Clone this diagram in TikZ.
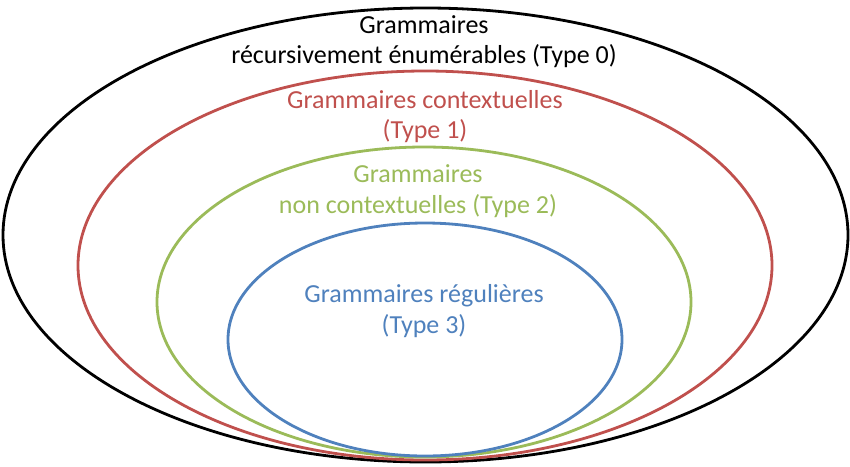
\documentclass[tikz,border=0pt]{standalone}
\usepackage{fontspec}
\setmainfont{Carlito}
\usetikzlibrary{positioning}
\definecolor{typered}{RGB}{192,80,77}
\definecolor{typegreen}{RGB}{155,187,89}
\definecolor{typeblue}{RGB}{79,129,189}
\tikzset{
    set/.style={
        line width=2.8pt
    },
    label/.style={
        align=center,
        inner sep=0pt,
        anchor=base,
        font=\fontsize{26}{31}\selectfont
    }
}

\begin{document}
\begin{tikzpicture}[x=1pt, y=-1pt]
\useasboundingbox (0,0) rectangle (850,466);

\draw[set, black] (425.5,235) ellipse [x radius=422.5pt, y radius=227pt];
\draw[set, typered] (425,265.5) ellipse [x radius=347pt, y radius=194.5pt];
\draw[set, typegreen] (424,302) ellipse [x radius=267pt, y radius=155pt];
\draw[set, typeblue] (425,339.5) ellipse [x radius=197pt, y radius=116.5pt];

\node[label] (type0a) at (424,33) {Grammaires};
\node[label] (type0b) at (424,63) {récursivement énumérables (Type 0)};
\node[label, text=typered] (type1a) at (425,108) {Grammaires contextuelles};
\node[label, text=typered] (type1b) at (425,138) {(Type 1)};
\node[label, text=typegreen] (type2a) at (418,182) {Grammaires};
\node[label, text=typegreen] (type2b) at (418,213) {non contextuelles (Type 2)};
\node[label, text=typeblue] (type3a) at (424,302) {Grammaires régulières};
\node[label, text=typeblue] (type3b) at (424,333) {(Type 3)};
\end{tikzpicture}
\end{document}
